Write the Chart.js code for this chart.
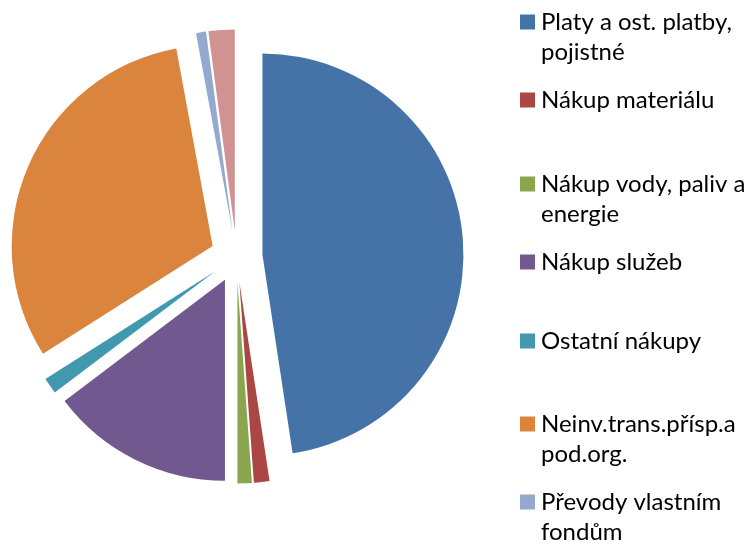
<!DOCTYPE html>
<html><head><meta charset="utf-8">
<script src="https://cdn.jsdelivr.net/npm/chart.js@4/dist/chart.umd.min.js"></script>
<style>html,body{margin:0;padding:0;background:#fff;}#wrap{width:753px;height:545px;position:relative;}</style>
</head><body><div id="wrap"><canvas id="c"></canvas></div>
<script>
// ---- data ----
const categories = [
  ["Platy a ost. platby,", "pojistné"],
  ["Nákup materiálu"],
  ["Nákup vody, paliv a", "energie"],
  ["Nákup služeb"],
  ["Ostatní nákupy"],
  ["Neinv.trans.přísp.a", "pod.org."],
  ["Převody vlastním", "fondům"],
  ["Ostatní výdaje"]
];
const shares = [47.6, 1.25, 1.15, 14.7, 1.3, 31.1, 0.8, 2.1];

// ---- styling / layout ----
const colors = ["#4572A7", "#AA4643", "#89A54E", "#71588F", "#4198AF", "#DB843D", "#93A9CF", "#D19392"];
const EXPLODE = 26;
const RADIUS = 201;
const FONT = "Lato, 'Open Sans', sans-serif";
const FONT_SIZE = 24;
const LINE_H = 30;
const BOX_X = 520, BOX_SIZE = 15, TEXT_X = 541;
const LEGEND_TOP = [22, 100, 184, 262, 341, 424, 502, 582];

const explodePlugin = {
  id: 'explode',
  beforeDatasetDraw(chart, args) {
    const ctx = chart.ctx;
    args.meta.data.forEach(arc => {
      const mid = (arc.startAngle + arc.endAngle) / 2;
      ctx.save();
      ctx.translate(Math.cos(mid) * EXPLODE, Math.sin(mid) * EXPLODE);
      arc.draw(ctx);
      ctx.restore();
    });
    return false;
  }
};

const legendPlugin = {
  id: 'sideLegend',
  afterDraw(chart) {
    const ctx = chart.ctx;
    ctx.save();
    ctx.font = FONT_SIZE + "px " + FONT;
    ctx.textBaseline = 'middle';
    ctx.textAlign = 'left';
    chart.data.labels.forEach((lines, i) => {
      const y0 = LEGEND_TOP[i];
      ctx.fillStyle = colors[i];
      ctx.fillRect(BOX_X, y0 - BOX_SIZE / 2, BOX_SIZE, BOX_SIZE);
      ctx.fillStyle = '#000000';
      lines.forEach((t, j) => ctx.fillText(t, TEXT_X, y0 + j * LINE_H));
    });
    ctx.restore();
  }
};

new Chart(document.getElementById('c'), {
  type: 'pie',
  data: {
    labels: categories,
    datasets: [{
      data: shares,
      backgroundColor: colors,
      borderWidth: 0,
      offset: 0,
      hoverOffset: 0
    }]
  },
  options: {
    responsive: true,
    maintainAspectRatio: false,
    animation: false,
    radius: RADIUS,
    layout: { padding: { left: 0, top: 0, right: 280, bottom: 32 } },
    plugins: { legend: { display: false }, tooltip: { enabled: false } }
  },
  plugins: [explodePlugin, legendPlugin]
});
</script>
</body></html>
